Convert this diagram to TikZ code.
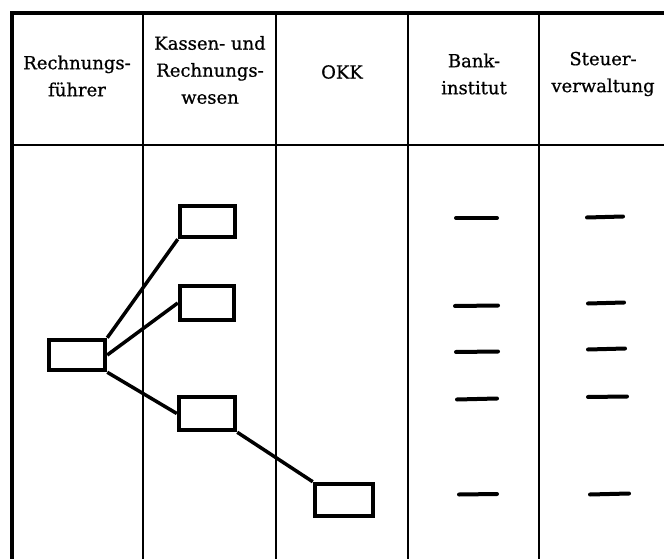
\documentclass[tikz,border=0pt]{standalone}
\usepackage{fontspec}
\setmainfont[FakeBold=0.7]{DejaVu Serif}
\begin{document}
\begin{tikzpicture}[x=1pt,y=-1pt,
  box/.style={draw,line width=4.5pt,rectangle,inner sep=0pt},
  conn/.style={line width=3.5pt},
  hdr/.style={align=center,font=\fontsize{18}{27}\selectfont,inner sep=0pt},
  dashline/.style={line width=4pt,line cap=round},
  frame/.style={line width=3.5pt,line join=miter},
  rule/.style={line width=1.8pt},
  colline/.style={line width=1.1pt}]
\useasboundingbox (0,0) rectangle (664,559);
% frame and grid
\draw[frame] (12,559) -- (12,13) -- (664,13);
\draw[rule] (12,145) -- (664,145);
\foreach \x in {143,276,408,539} \draw[colline] (\x,13) -- (\x,559);
% headers
\node[hdr] (h1) at (77,76) {Rechnungs-\\führer};
\node[hdr] (h2) at (210,70) {Kassen- und\\Rechnungs-\\wesen};
\node[hdr] (h3) at (342,72) {OKK};
\node[hdr] (h4) at (474,74) {Bank-\\institut};
\node[hdr] (h5) at (603,74) {Steuer-\\verwaltung};
% boxes
\node[box,minimum width=56pt,minimum height=30pt] (rf) at (77,355) {};
\node[box,minimum width=55pt,minimum height=31pt] (k1) at (207.5,221.5) {};
\node[box,minimum width=54pt,minimum height=34pt] (k2) at (207,303) {};
\node[box,minimum width=56pt,minimum height=33pt] (k3) at (207,413.5) {};
\node[box,minimum width=58pt,minimum height=32pt] (okk) at (344,500) {};
% connectors
\draw[conn] (rf.north east) -- (k1.south west);
\draw[conn] (rf.east) -- (k2.west);
\draw[conn] (rf.south east) -- (k3.west);
\draw[conn] (k3.south east) -- (okk.north west);
% dashes Bank
\draw[dashline] (456,218) -- (497,218);
\draw[dashline] (455,306) -- (498,305.5);
\draw[dashline] (456,352) -- (498,351.5);
\draw[dashline] (457,399.5) -- (497,398.5);
\draw[dashline] (459,494.5) -- (497,494);
% dashes Steuer
\draw[dashline] (587,217.5) -- (623,216.5);
\draw[dashline] (588,303.5) -- (624,302.5);
\draw[dashline] (588,349.5) -- (625,348.5);
\draw[dashline] (588,397) -- (627,396.5);
\draw[dashline] (590,494.5) -- (629,493.5);
\end{tikzpicture}
\end{document}
